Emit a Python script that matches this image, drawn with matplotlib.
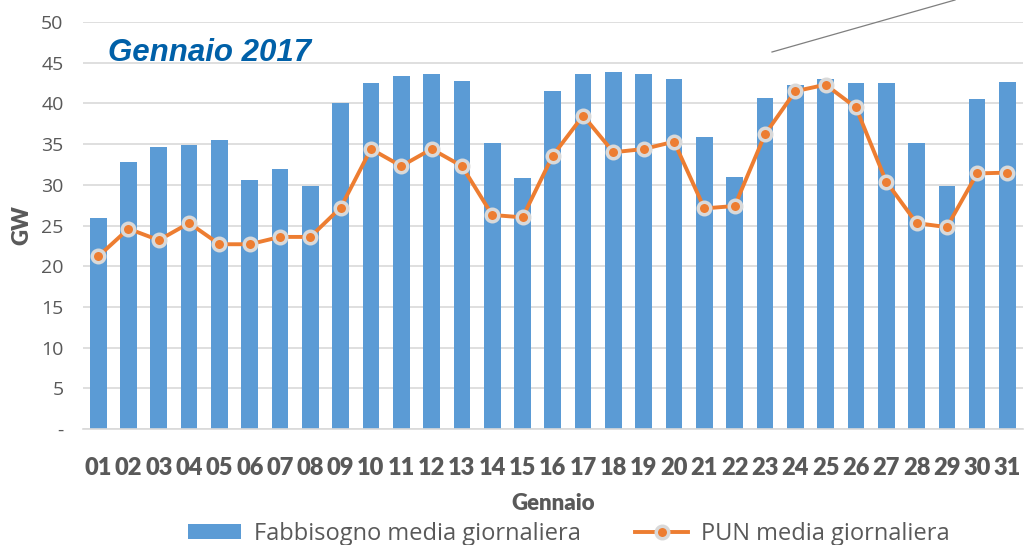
import matplotlib
matplotlib.use('Agg')
import matplotlib.pyplot as plt
from matplotlib.lines import Line2D

# Dati
giorni = ['%02d' % d for d in range(1, 32)]
fabbisogno = [25.9, 32.8, 34.7, 34.9, 35.5, 30.6, 31.9, 29.9, 40.0, 42.5,
              43.4, 43.6, 42.7, 35.1, 30.8, 41.5, 43.6, 43.8, 43.6, 43.0,
              35.9, 31.0, 40.7, 42.3, 43.0, 42.5, 42.5, 35.1, 29.8, 40.5, 42.6]
pun = [21.2, 24.6, 23.2, 25.3, 22.7, 22.7, 23.6, 23.6, 27.2, 34.4,
       32.3, 34.4, 32.3, 26.3, 26.0, 33.6, 38.5, 34.0, 34.4, 35.3,
       27.1, 27.4, 36.2, 41.5, 42.3, 39.5, 30.4, 25.3, 24.8, 31.4, 31.5]
yticks = [0, 5, 10, 15, 20, 25, 30, 35, 40, 45, 50]
ytick_labels = ['-'] + [str(v) for v in yticks[1:]]

blue = '#5B9BD5'
orange = '#ED7D31'
grey = '#595959'

fig = plt.figure(figsize=(10.34, 5.45), dpi=100)
ax = fig.add_axes([0.0803, 0.2128, 0.9087, 0.7468])

x = list(range(len(giorni)))
bars = ax.bar(x, fabbisogno, width=0.55, color=blue, zorder=2,
              label='Fabbisogno media giornaliera')
line, = ax.plot(x, pun, color=orange, lw=2.8, marker='o', markersize=9,
                markerfacecolor=orange, markeredgecolor='#D9D9D9', markeredgewidth=2.5,
                zorder=3, label='PUN media giornaliera')

ax.set_xlim(-0.5, len(giorni) - 0.5)
ax.set_ylim(0, 50)
ax.set_yticks(yticks)
ax.set_yticklabels(ytick_labels, fontsize=14, color=grey, family='Open Sans')
ax.set_xticks(x)
ax.set_xticklabels(giorni, fontsize=17, fontweight='heavy', color=grey, family='Lato')
ax.tick_params(length=0)
ax.tick_params(axis='y', pad=14)
ax.tick_params(axis='x', pad=20)
ax.grid(axis='y', color='#D9D9D9', lw=1.2, zorder=0)
ax.set_axisbelow(True)
for s in ['top', 'right', 'left']:
    ax.spines[s].set_visible(False)
ax.spines['bottom'].set_color('#D9D9D9')
ax.spines['bottom'].set_linewidth(1.2)

ax.set_ylabel('GW', fontsize=16, fontweight='heavy', color=grey, family='Lato', labelpad=6)
ax.set_xlabel('Gennaio', fontsize=16, fontweight='heavy', color=grey, family='Lato', labelpad=10)

ax.text(0.027, 0.96, 'Gennaio 2017', transform=ax.transAxes, fontsize=22.5,
        fontweight='bold', fontstyle='italic', color='#0060A8',
        family='Liberation Sans', va='top')

# linea di richiamo residua
fig.add_artist(Line2D([772 / 1034, 955 / 1034], [1 - 52 / 545, 1.0],
                      color='#7F7F7F', lw=0.9))

leg = fig.legend([bars, line], ['Fabbisogno media giornaliera', 'PUN media giornaliera'],
                 loc='center', ncol=2, frameon=False,
                 bbox_to_anchor=(0.550, 0.020), handlelength=2.25, handleheight=0.6,
                 handletextpad=0.55, columnspacing=2.3,
                 prop={'family': 'Open Sans', 'size': 17})
for t in leg.get_texts():
    t.set_color(grey)

fig.savefig('out.png', dpi=100)
